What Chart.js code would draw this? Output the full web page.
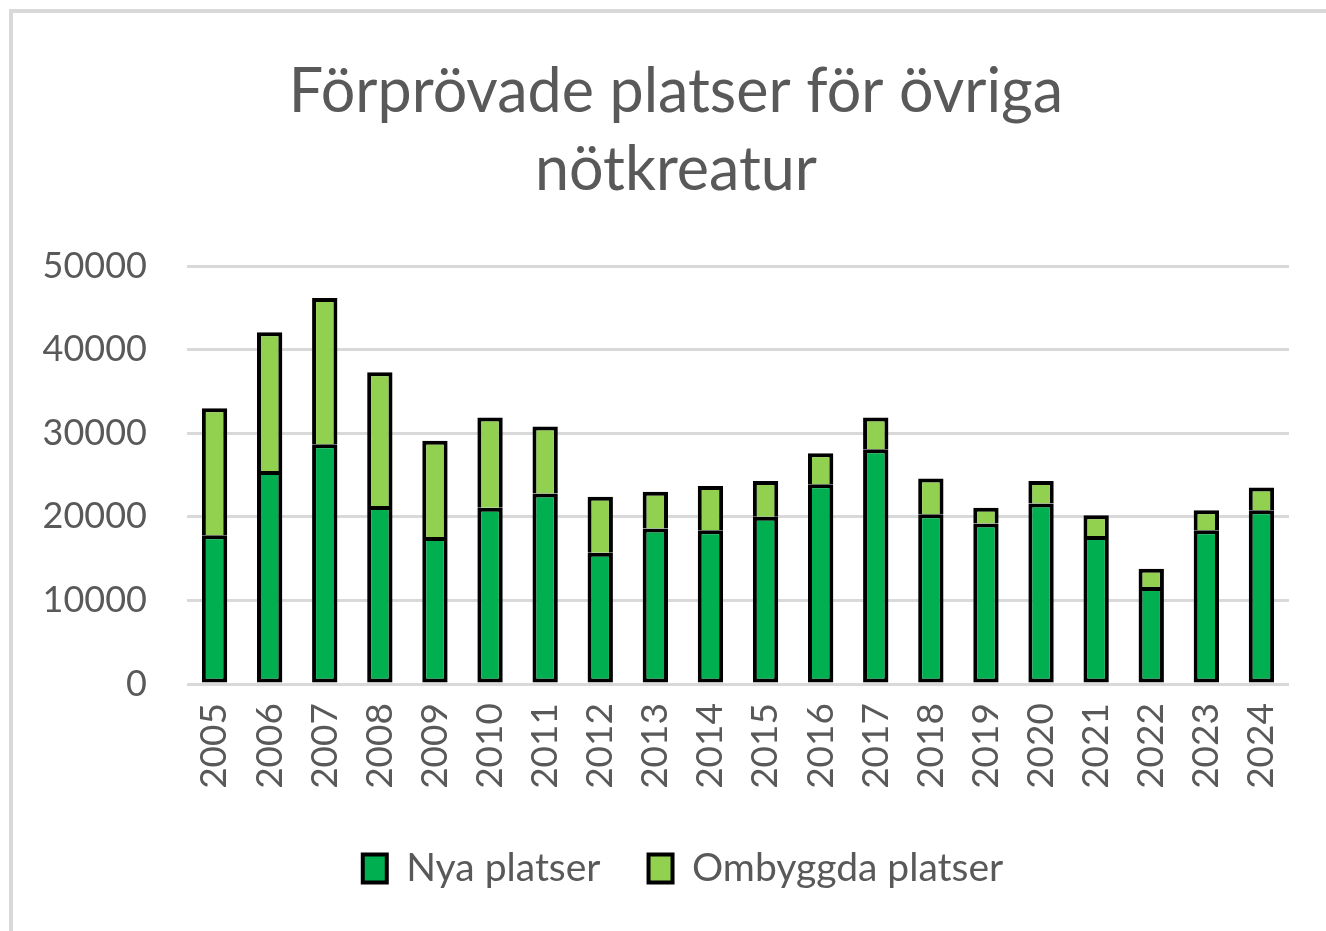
<!DOCTYPE html>
<html>
<head>
<meta charset="utf-8">
<script src="https://cdn.jsdelivr.net/npm/chart.js@4"></script>
<style>
  html, body { margin: 0; padding: 0; background: #fff; }
  #frame { position: absolute; left: 9px; top: 9px; width: 1317px; height: 922px;
           border-left: 4px solid #d9d9d9; border-top: 4px solid #d9d9d9; box-sizing: border-box; }
  #wrap { position: absolute; left: 0; top: 0; width: 1313px; height: 918px; }
</style>
</head>
<body>
<div id="frame"><div id="wrap"><canvas id="c"></canvas></div></div>
<script>
const years = ['2005','2006','2007','2008','2009','2010','2011','2012','2013','2014',
               '2015','2016','2017','2018','2019','2020','2021','2022','2023','2024'];
const nyaPlatser = [17800,25500,28700,21300,17600,21100,22800,15700,18600,18400,
                    20000,23900,28100,20300,19200,21600,17700,11600,18400,20800];
const ombyggdaPlatser = [15200,16600,17500,16000,11500,10800,8000,6700,4400,5300,
                         4300,3700,3800,4300,1900,2700,2500,2200,2400,2700];
const titleLines = ['Förprövade platser för övriga', 'nötkreatur'];
const seriesNames = ['Nya platser', 'Ombyggda platser'];

const FONT = 'Lato, "Open Sans", sans-serif';
const GREY = '#595959';

// Nudge title and legend horizontally to match the reference centring.
const nudgePlugin = {
  id: 'nudge',
  afterLayout(chart) {
    if (chart.legend) { chart.legend.left += 32; chart.legend.right += 32; }
    if (chart.titleBlock) { chart.titleBlock.left += 25; chart.titleBlock.right += 25; }
  }
};

new Chart(document.getElementById('c'), {
  type: 'bar',
  plugins: [nudgePlugin],
  data: {
    labels: years,
    datasets: [
      { label: seriesNames[0], data: nyaPlatser, backgroundColor: '#00B050',
        borderColor: '#000', borderWidth: 4, borderSkipped: false,
        categoryPercentage: 1.0, barPercentage: 0.46 },
      { label: seriesNames[1], data: ombyggdaPlatser, backgroundColor: '#92D050',
        borderColor: '#000', borderWidth: 4, borderSkipped: 'start',
        categoryPercentage: 1.0, barPercentage: 0.46 }
    ]
  },
  options: {
    responsive: true,
    maintainAspectRatio: false,
    animation: false,
    layout: { padding: { left: 0, right: 37, top: 0, bottom: 33 } },
    plugins: {
      title: {
        display: true,
        text: titleLines,
        color: GREY,
        font: { family: FONT, size: 61, weight: 'normal', lineHeight: 1.28 },
        padding: { top: 40, bottom: 57 }
      },
      legend: {
        display: true,
        position: 'bottom',
        labels: {
          color: GREY,
          font: { family: FONT, size: 39 },
          boxWidth: 24,
          boxHeight: 28,
          padding: 48,
          useBorderRadius: false
        }
      },
      tooltip: { enabled: false }
    },
    scales: {
      x: {
        stacked: true,
        grid: { display: false, drawTicks: false },
        border: { display: false },
        ticks: { color: GREY, font: { family: FONT, size: 37 }, minRotation: 90, maxRotation: 90, padding: 19, autoSkip: false },
        afterFit: (s) => { s.height = 117; }
      },
      y: {
        stacked: true,
        min: 0, max: 50000,
        ticks: { stepSize: 10000, color: GREY, font: { family: FONT, size: 36 }, padding: 40,
                 callback: (v) => String(v) },
        grid: { color: '#d9d9d9', lineWidth: 3, drawTicks: false },
        border: { display: false },
        afterFit: (s) => { s.width = 174; }
      }
    }
  }
});
</script>
</body>
</html>
